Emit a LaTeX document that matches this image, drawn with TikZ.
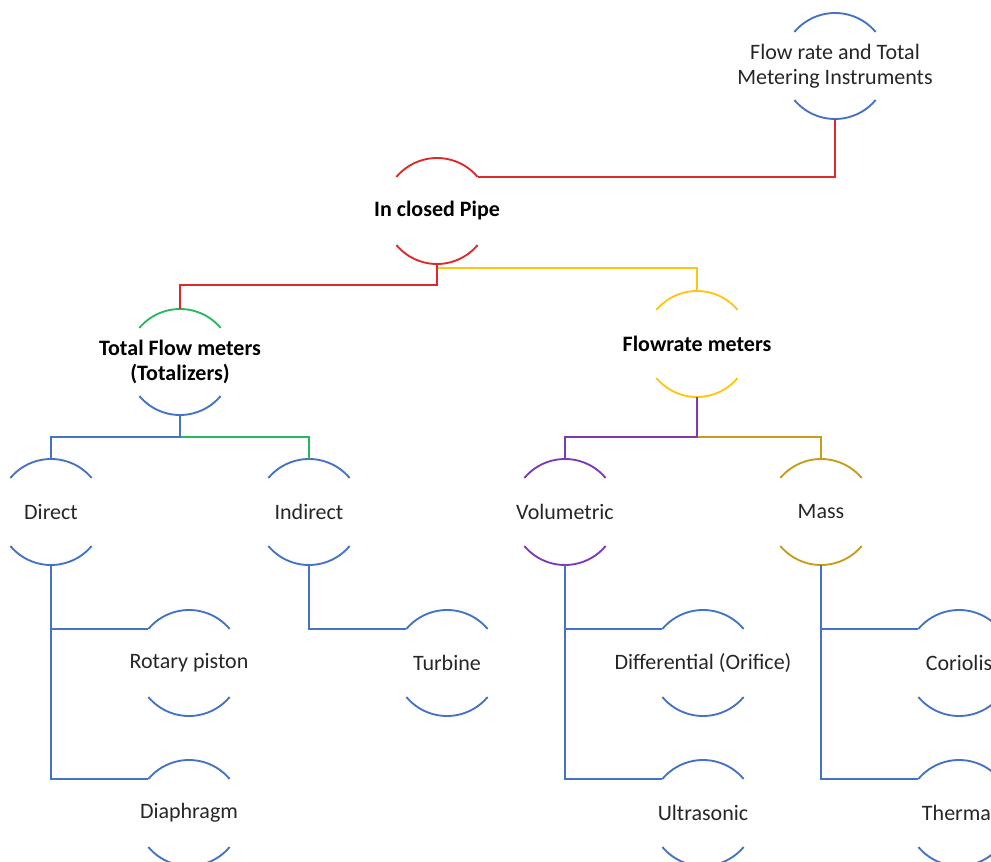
\documentclass[tikz,border=0pt]{standalone}
\usepackage{fontspec}
\setmainfont{Carlito}
\usepackage{tikz}
\usetikzlibrary{positioning, calc}
\definecolor{cblue}{RGB}{68,114,196}
\definecolor{cred}{RGB}{224,40,40}
\definecolor{cgreen}{RGB}{40,184,96}
\definecolor{cyellow}{RGB}{255,196,20}
\definecolor{cpurple}{RGB}{124,58,182}
\definecolor{cgold}{RGB}{198,156,24}
\definecolor{txtgray}{RGB}{38,38,38}
\tikzset{
  hub/.style={circle, minimum size=79.5pt, inner sep=0pt, outer sep=0pt},
  txt/.style={font=\fontsize{16.5}{18.5}\selectfont, text=txtgray, align=center},
  txtB/.style={font=\fontsize{16.5}{18.5}\selectfont\bfseries, text=black, align=center},
  conn/.style={line width=1.4pt},
  arcl/.style={line width=1.4pt},
}

\begin{document}
\begin{tikzpicture}[x=0.75pt, y=-0.75pt]
  \useasboundingbox (0,0) rectangle (991,862);
  \clip (0,0) rectangle (991,862);

  % ── hubs ──────────────────────────────────────────────
  \node[hub, label={[txt]center:{Flow rate and Total\\Metering Instruments}}] (root) at (835,66) {};
  \node[hub, label={[txtB]center:In closed Pipe}] (pipe) at (437,211) {};
  \node[hub, label={[txtB]center:{Total Flow meters\\(Totalizers)}}] (tfm) at (180,362) {};
  \node[hub, label={[txtB]center:Flowrate meters}] (flow) at (697,344) {};

  % ── types ─────────────────────────────────────────────
  \node[hub, label={[txt]center:Direct}]     (direct)   at (51,512)  {};
  \node[hub, label={[txt]center:Indirect}]   (indirect) at (309,512) {};
  \node[hub, label={[txt]center:Volumetric}] (vol)      at (565,512) {};
  \node[hub, label={[txt]center:Mass}]       (mass)     at (821,512) {};

  % ── meters ────────────────────────────────────────────
  \node[hub, label={[txt]center:Rotary piston}]           (rotary)    at (189,663) {};
  \node[hub, label={[txt]center:Turbine}]                 (turbine)   at (447,663) {};
  \node[hub, label={[txt]center:Differential (Orifice)}]  (diff)      at (703,663) {};
  \node[hub, label={[txt]center:Coriolis}]                (coriolis)  at (959,663) {};
  \node[hub, label={[txt]center:Diaphragm}]               (diaphragm) at (189,813) {};
  \node[hub, label={[txt]center:Ultrasonic}]              (ultra)     at (703,813) {};
  \node[hub, label={[txt]center:Thermal}]                 (thermal)   at (959,813) {};

  % ── arcs (top colour / bottom colour) ─────────────────
  \foreach \n/\ct/\cb in {root/cblue/cblue, pipe/cred/cred, tfm/cgreen/cblue,
      flow/cyellow/cyellow, direct/cblue/cblue, indirect/cblue/cblue,
      vol/cpurple/cpurple, mass/cgold/cgold, rotary/cblue/cblue,
      turbine/cblue/cblue, diff/cblue/cblue, coriolis/cblue/cblue,
      diaphragm/cblue/cblue, ultra/cblue/cblue, thermal/cblue/cblue} {
    \draw[arcl, \ct] (\n.40) arc[start angle=40, end angle=140, radius=39.75pt];
    \draw[arcl, \cb] (\n.220) arc[start angle=220, end angle=320, radius=39.75pt];
  }

  % ── connectors ────────────────────────────────────────
  \draw[conn, cred] (root.south) |- (pipe.40);
  \draw[conn, cyellow] (pipe.south) ++(0,4) -| (flow.north);
  \draw[conn, cred] (pipe.south) -- ++(0,21) -| (tfm.north);
  \draw[conn, cgreen] (tfm.south) ++(0,22) -| (indirect.north);
  \draw[conn, cblue] (tfm.south) -- ++(0,22) -| (direct.north);
  \draw[conn, cgold] (flow.south) ++(0,40) -| (mass.north);
  \draw[conn, cpurple] (flow.south) -- ++(0,40) -| (vol.north);
  \foreach \a/\b in {direct/rotary, direct/diaphragm, indirect/turbine,
      vol/diff, vol/ultra, mass/coriolis, mass/thermal}
    \draw[conn, cblue] (\a.south) |- (\b.140);
\end{tikzpicture}
\end{document}
